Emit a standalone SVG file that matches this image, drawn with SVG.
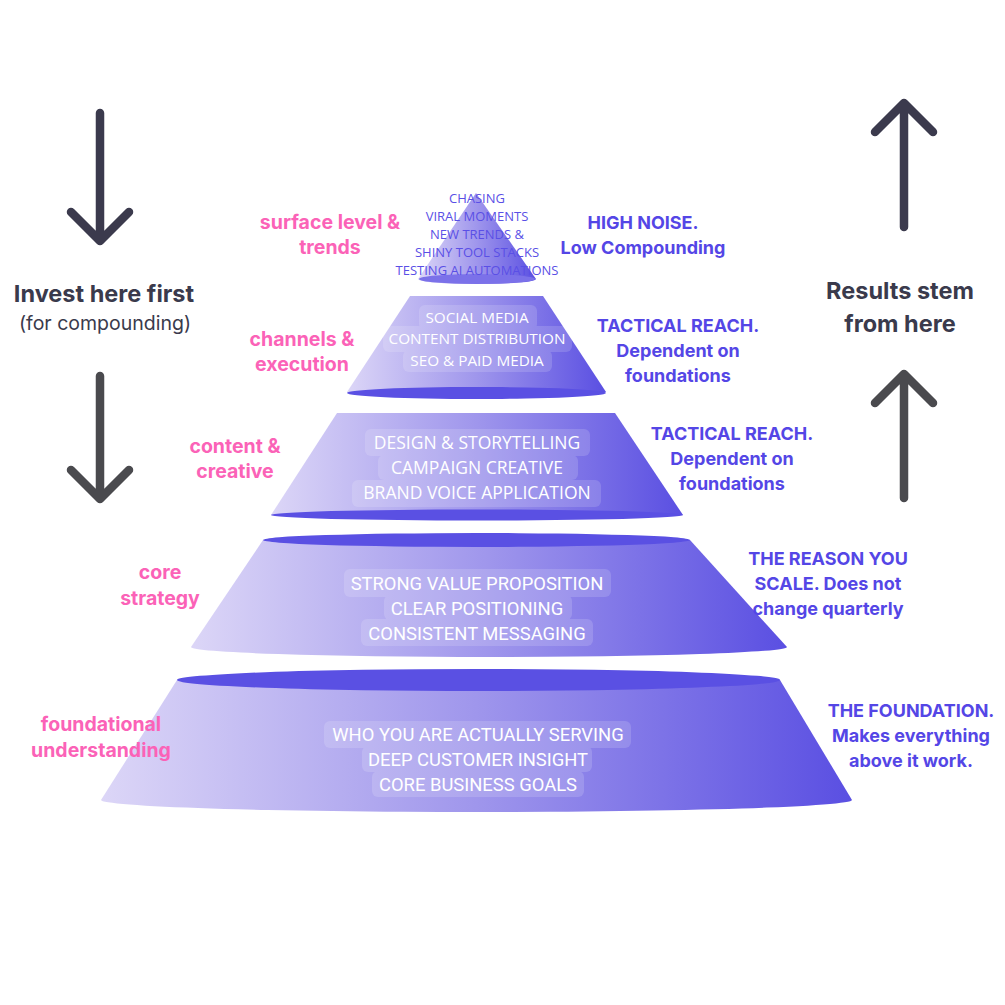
<svg xmlns="http://www.w3.org/2000/svg" width="1005" height="1005" viewBox="0 0 1005 1005">
<style>
.pink{font-family:Inter,"Open Sans",sans-serif;font-weight:700;font-size:19.5px;fill:#fb62b7;text-anchor:middle}
.purp{font-family:Inter,"Open Sans",sans-serif;font-weight:700;font-size:18px;fill:#5446e6;text-anchor:middle}
.dark{font-family:Inter,"Open Sans",sans-serif;font-weight:700;font-size:23.5px;fill:#3a3a4c;text-anchor:middle}
.sub{font-family:Inter,"Open Sans",sans-serif;font-weight:400;font-size:19.5px;fill:#3a3a4c;text-anchor:middle}
.in{font-family:"Open Sans",Inter,sans-serif;font-size:17.5px;fill:#ffffff;text-anchor:middle}
.inc{font-family:Roboto,"Open Sans",sans-serif;font-size:18.4px;fill:#ffffff;text-anchor:middle}
.top{font-family:"Open Sans",Inter,sans-serif;font-size:13px;fill:#5a4fe6;text-anchor:middle}
.box{fill:#ffffff;opacity:0.15}
.rim{fill:#5a50e3}
.arr{fill:none;stroke-width:8.5;stroke-linecap:round;stroke-linejoin:round}
</style>
<defs>
<linearGradient id="g" x1="0" y1="0" x2="1" y2="0">
<stop offset="0" stop-color="#dcd6f7"/>
<stop offset="0.5" stop-color="#9f96ec"/>
<stop offset="1" stop-color="#5a4fe2"/>
</linearGradient>
</defs>
<rect width="1005" height="1005" fill="#ffffff"/>

<g id="arrows">
<g class="arr" stroke="#3b3a4d">
<path d="M100,113 V240 M71,212 L100,241 L129,212"/>
<path d="M904,227 V104 M875,132 L904,103 L933,132"/>
</g>
<g class="arr" stroke="#4a4a4e">
<path d="M100,376 V498 M71,470 L100,499 L129,470"/>
<path d="M904,498 V375 M875,403 L904,374 L933,403"/>
</g>
</g>

<g id="tier5">
<path d="M177,680 L780,680 L852,800 A375.5,12 0 0 1 101,800 Z" fill="url(#g)"/>
<ellipse class="rim" cx="478.5" cy="680" rx="301.5" ry="11"/>
<g class="box">
<rect x="324" y="721" width="307" height="27" rx="6"/>
<rect x="362" y="746" width="230" height="26" rx="6"/>
<rect x="372" y="771" width="212" height="26" rx="6"/>
</g>
<text class="inc" x="478" y="741">WHO YOU ARE ACTUALLY SERVING</text>
<text class="inc" x="478" y="766">DEEP CUSTOMER INSIGHT</text>
<text class="inc" x="478" y="791">CORE BUSINESS GOALS</text>
</g>

<g id="tier4">
<path d="M263,540 L690,540 L787,647 A298,10 0 0 1 191,647 Z" fill="url(#g)"/>
<ellipse class="rim" cx="476.5" cy="540" rx="213.5" ry="7"/>
<g class="box">
<rect x="344" y="569" width="267" height="28" rx="6"/>
<rect x="384" y="595" width="188" height="25" rx="6"/>
<rect x="361" y="619" width="232" height="27" rx="6"/>
</g>
<text class="inc" x="477" y="590">STRONG VALUE PROPOSITION</text>
<text class="inc" x="477" y="615">CLEAR POSITIONING</text>
<text class="inc" x="477" y="640">CONSISTENT MESSAGING</text>
</g>

<g id="tier3">
<path d="M337,413 L615,413 L683,515 L271,515 Z" fill="url(#g)"/>
<ellipse class="rim" cx="477" cy="515" rx="206" ry="5.5"/>
<g class="box">
<rect x="365" y="429" width="225" height="27" rx="6"/>
<rect x="378" y="455" width="200" height="25" rx="6"/>
<rect x="352" y="480" width="249" height="27" rx="6"/>
</g>
<text class="in" x="477" y="449">DESIGN &amp; STORYTELLING</text>
<text class="in" x="477" y="474">CAMPAIGN CREATIVE</text>
<text class="in" x="477" y="499">BRAND VOICE APPLICATION</text>
</g>

<g id="tier2">
<path d="M410,296 L543,296 L606,392 L347,392 Z" fill="url(#g)"/>
<ellipse class="rim" cx="476.5" cy="393" rx="129.5" ry="6"/>
<g class="box">
<rect x="419" y="305" width="118" height="25" rx="6"/>
<rect x="383" y="326" width="189" height="26" rx="6"/>
<rect x="403" y="350" width="149" height="22" rx="6"/>
</g>
<text class="in" style="font-size:15.3px" x="477" y="323">SOCIAL MEDIA</text>
<text class="in" style="font-size:15.3px" x="477" y="344">CONTENT DISTRIBUTION</text>
<text class="in" style="font-size:15.3px" x="477" y="366">SEO &amp; PAID MEDIA</text>
</g>

<g id="tier1">
<path d="M476,193 L418,279 A58,5 0 0 0 536,279 Z" fill="url(#g)"/>
<ellipse cx="477" cy="279" rx="58" ry="5" fill="#7b71e9"/>
<text class="top" x="477" y="203">CHASING</text>
<text class="top" x="477" y="221">VIRAL MOMENTS</text>
<text class="top" x="477" y="239">NEW TRENDS &amp;</text>
<text class="top" x="477" y="257">SHINY TOOL STACKS</text>
<text class="top" x="477" y="275">TESTING AI AUTOMATIONS</text>
</g>

<g id="left-labels">
<text class="pink" x="330" y="229">surface level &amp;</text>
<text class="pink" x="330" y="254">trends</text>
<text class="pink" x="302" y="346">channels &amp;</text>
<text class="pink" x="302" y="371">execution</text>
<text class="pink" x="235" y="453">content &amp;</text>
<text class="pink" x="235" y="478">creative</text>
<text class="pink" x="160" y="579">core</text>
<text class="pink" x="160" y="605">strategy</text>
<text class="pink" x="101" y="731">foundational</text>
<text class="pink" x="101" y="757">understanding</text>
</g>

<g id="right-labels">
<text class="purp" x="643" y="229">HIGH NOISE.</text>
<text class="purp" x="643" y="254">Low Compounding</text>
<text class="purp" x="678" y="332">TACTICAL REACH.</text>
<text class="purp" x="678" y="357">Dependent on</text>
<text class="purp" x="678" y="382">foundations</text>
<text class="purp" x="732" y="440">TACTICAL REACH.</text>
<text class="purp" x="732" y="465">Dependent on</text>
<text class="purp" x="732" y="490">foundations</text>
<text class="purp" x="828" y="565">THE REASON YOU</text>
<text class="purp" x="828" y="590">SCALE. Does not</text>
<text class="purp" x="828" y="615">change quarterly</text>
<text class="purp" x="911" y="717">THE FOUNDATION.</text>
<text class="purp" x="911" y="742">Makes everything</text>
<text class="purp" x="911" y="767">above it work.</text>
</g>

<g id="side-notes">
<text class="dark" x="104" y="302">Invest here first</text>
<text class="sub" x="105" y="330">(for compounding)</text>
<text class="dark" x="900" y="299">Results stem</text>
<text class="dark" x="900" y="332">from here</text>
</g>
</svg>
